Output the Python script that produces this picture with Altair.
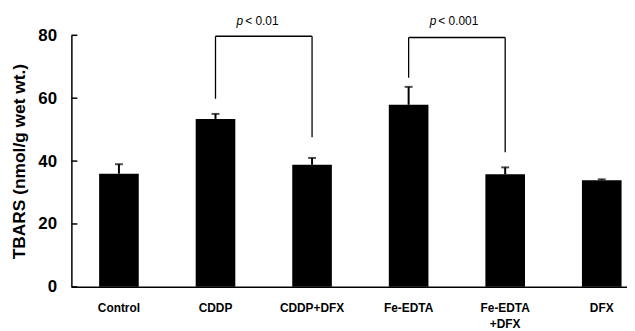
import altair as alt
import pandas as pd

# ---- data ----
groups = ["Control", "CDDP", "CDDP+DFX", "Fe-EDTA", "Fe-EDTA +DFX", "DFX"]
means = [36.0, 53.4, 38.8, 57.9, 35.8, 33.9]
errors = [3.0, 1.6, 2.2, 5.7, 2.2, 0.3]
y_ticks = [0, 20, 40, 60, 80]

brk_left = ["CDDP", "Fe-EDTA"]
brk_right = ["CDDP+DFX", "Fe-EDTA +DFX"]
brk_top = [79.7, 79.3]
brk_left_bottom = [59.8, 66.5]
brk_right_bottom = [47.6, 42.8]
p_text = ["< 0.01", "< 0.001"]
p_y = [84.6, 84.6]

FONT = "Liberation Sans"
YTITLE = "TBARS (nmol/g wet wt.)"

bars_df = pd.DataFrame({
    "group": groups,
    "mean": means,
    "top": [m + e for m, e in zip(means, errors)],
})
ticks_df = pd.DataFrame({"v": y_ticks})
legs_df = pd.DataFrame({
    "group": brk_left + brk_right,
    "lo": brk_left_bottom + brk_right_bottom,
    "hi": brk_top + brk_top,
})
tops_df = pd.DataFrame({"group": brk_left, "g2": brk_right, "hi": brk_top})
text_df = pd.DataFrame({"group": brk_left, "y": p_y, "t": p_text})

xscale = alt.Scale(domain=groups, paddingInner=0.5897, paddingOuter=0.1718, align=0.836)
yscale = alt.Scale(domain=[0, 80])

X = lambda f="group": alt.X(
    f"{f}:N", scale=xscale, sort=None, title=None,
    axis=alt.Axis(labelExpr="split(datum.label, ' ')", labelFont=FONT, labelFontSize=12,
                  labelFontWeight="bold", labelColor="black", labelPadding=15.5,
                  labelLineHeight=17, labelAngle=0, ticks=False, tickSize=0,
                  domainColor="black", domainWidth=1.5, labelBaseline="top"),
)


def Y(f):
    return alt.Y(
        f"{f}:Q", scale=yscale, title=YTITLE,
        axis=alt.Axis(values=y_ticks, grid=False, ticks=False, tickSize=0, labelPadding=15,
                      labelFont=FONT, labelFontSize=17, labelFontWeight="bold",
                      labelColor="black", domainColor="black", domainWidth=1.5,
                      titleFont=FONT, titleFontSize=17.5, titleFontWeight="bold",
                      titleColor="black", titlePadding=9),
    )


bars = alt.Chart(bars_df).mark_bar(color="black").encode(x=X(), y=Y("mean"))
err = alt.Chart(bars_df).mark_rule(color="black", strokeWidth=2).encode(
    x=X(), y=Y("mean"), y2="top:Q")
caps = alt.Chart(bars_df).mark_tick(color="black", size=8, thickness=2, orient="horizontal").encode(
    x=X(), y=Y("top"))
yt = alt.Chart(ticks_df).mark_rule(color="black", strokeWidth=1.5).encode(
    x=alt.value(0), x2=alt.value(6), y=Y("v"))
legs = alt.Chart(legs_df).mark_rule(color="black", strokeWidth=1.3).encode(
    x=X(), y=Y("lo"), y2="hi:Q")
tops = alt.Chart(tops_df).mark_rule(color="black", strokeWidth=1.3).encode(
    x=X(), x2="g2:N", y=Y("hi"))
ptxt_p = alt.Chart(text_df).mark_text(
    text="p", fontStyle="italic", font=FONT, fontSize=12, align="right", dx=28,
    baseline="middle", color="black").encode(x=X(), y=Y("y"))
ptxt = alt.Chart(text_df).mark_text(
    font=FONT, fontSize=12, align="left", dx=30, baseline="middle", color="black").encode(
    x=X(), y=Y("y"), text="t:N")

chart = alt.layer(bars, err, caps, yt, legs, tops, ptxt_p, ptxt).properties(
    width=561, height=254,
    autosize=alt.AutoSizeParams(type="none"),
    padding={"left": 64, "top": 26, "right": 0, "bottom": 43},
    background="white",
).configure_view(stroke=None)

chart.save("out.html", embed_options={"renderer": "svg", "actions": False})
